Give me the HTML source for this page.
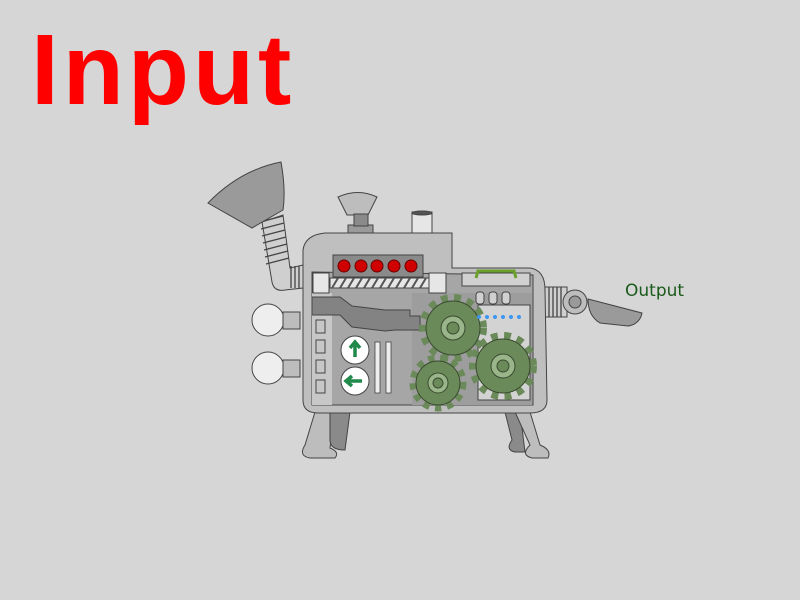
<!DOCTYPE html>
<html><head><style>
html,body{margin:0;padding:0;background:#d6d6d6;width:800px;height:600px;overflow:hidden}
</style></head><body>
<svg width="800" height="600" viewBox="0 0 800 600" xmlns="http://www.w3.org/2000/svg" style="position:absolute;left:0;top:0">
<rect width="800" height="600" fill="#d6d6d6"/>
<text x="31" y="104" font-family="Liberation Sans, sans-serif" font-weight="bold" font-size="100" letter-spacing="4" fill="#ff0000">Input</text>
<text x="625" y="296" font-family="DejaVu Sans, Liberation Sans, sans-serif" font-size="17" fill="#1a5a1a">Output</text>
<g stroke="#444" stroke-width="1">
<path d="M315 412 L305 445 Q298 456 310 458 L335 458 Q340 452 330 448 L335 412Z" fill="#bdbdbd"/>
<path d="M330 412 L330 440 Q330 450 345 450 L350 412Z" fill="#8a8a8a"/>
<path d="M505 412 L512 440 Q505 450 515 452 L525 452 L520 412Z" fill="#8a8a8a"/>
<path d="M515 412 L530 445 Q520 455 532 458 L548 458 Q552 450 540 445 L530 412Z" fill="#bdbdbd"/>
<path d="M262 222 L272 282 Q274 292 285 290 L303 288 L303 265 L290 268 L283 215Z" fill="#cfcfcf"/>
<g stroke="#444" stroke-width="1.3">
<line x1="260" y1="222" x2="283" y2="216"/><line x1="261" y1="229" x2="284" y2="223"/><line x1="262" y1="236" x2="285" y2="230"/>
<line x1="263" y1="243" x2="286" y2="237"/><line x1="264" y1="250" x2="287" y2="244"/><line x1="265" y1="257" x2="288" y2="251"/>
<line x1="266" y1="264" x2="289" y2="258"/>
<line x1="291" y1="266" x2="291" y2="288"/><line x1="295" y1="266" x2="295" y2="288"/><line x1="299" y1="266" x2="299" y2="288"/>
</g>
<path d="M208 203 Q240 170 281 162 Q286 190 283 210 L252 228Z" fill="#9a9a9a"/>
<rect x="545" y="287" width="22" height="30" fill="#cfcfcf"/>
<g stroke-width="1.3"><line x1="549" y1="287" x2="549" y2="317"/><line x1="553" y1="287" x2="553" y2="317"/><line x1="557" y1="287" x2="557" y2="317"/><line x1="561" y1="287" x2="561" y2="317"/></g>
<path d="M588 299 L642 313 Q640 324 628 326 L600 323 Q588 316 588 299Z" fill="#9a9a9a"/>
<circle cx="575" cy="302" r="12" fill="#bdbdbd"/><circle cx="575" cy="302" r="6" fill="#9a9a9a"/>
<circle cx="268" cy="320" r="16" fill="#eeeeee"/><rect x="283" y="312" width="17" height="17" fill="#bdbdbd"/>
<circle cx="268" cy="368" r="16" fill="#eeeeee"/><rect x="283" y="360" width="17" height="17" fill="#bdbdbd"/>
<rect x="348" y="225" width="25" height="16" fill="#9a9a9a"/>
<path d="M338 197 Q358 188 377 197 L368 215 L347 215Z" fill="#bdbdbd"/>
<rect x="354" y="214" width="14" height="12" fill="#8a8a8a"/>
<rect x="412" y="212" width="20" height="29" fill="#e6e6e6"/>
<ellipse cx="422" cy="213" rx="10" ry="2" fill="#555"/>
<path d="M303 250 Q305 235 325 233 L452 233 L452 268 L530 268 Q545 270 545 290 L547 400 Q547 413 530 413 L318 413 Q303 413 303 400Z" fill="#bfbfbf"/>
<path d="M312 272 L533 275 L533 405 L312 405Z" fill="#a6a6a6"/>
<rect x="312" y="293" width="20" height="112" fill="#c7c7c7" stroke="none"/>
<rect x="412" y="293" width="120" height="112" fill="#9d9d9d" stroke="none"/>
<rect x="478" y="305" width="52" height="95" fill="#d3d3d3"/>
<path d="M312 297 L340 297 L352 306 L385 310 L410 310 L410 316 L420 316 L420 330 L395 330 L385 331 L352 327 L340 315 L312 315Z" fill="#838383"/>
<rect x="462" y="273" width="68" height="13" fill="#d0d0d0"/>
<path d="M476 278 L478 271 L514 271 L516 278" fill="none" stroke="#6aa02a" stroke-width="3"/>
<rect x="333" y="255" width="90" height="22" fill="#8a8a8a"/>
<g stroke="#600" fill="#d10000"><circle cx="344" cy="266" r="6"/><circle cx="361" cy="266" r="6"/><circle cx="377" cy="266" r="6"/><circle cx="394" cy="266" r="6"/><circle cx="411" cy="266" r="6"/></g>
<rect x="330" y="278" width="100" height="10" fill="#e6e6e6"/>
<path d="M332 288 l6 -10 M340 288 l6 -10 M348 288 l6 -10 M356 288 l6 -10 M364 288 l6 -10 M372 288 l6 -10 M380 288 l6 -10 M388 288 l6 -10 M396 288 l6 -10 M404 288 l6 -10 M412 288 l6 -10 M420 288 l6 -10" stroke="#555" stroke-width="2"/>
<rect x="313" y="273" width="16" height="20" fill="#e6e6e6"/><rect x="429" y="273" width="17" height="20" fill="#e6e6e6"/>
<g fill="#d0d0d0"><rect x="476" y="292" width="8" height="12" rx="3"/><rect x="489" y="292" width="8" height="12" rx="3"/><rect x="502" y="292" width="8" height="12" rx="3"/></g>
<g fill="#c7c7c7"><rect x="316" y="320" width="9" height="13"/><rect x="316" y="340" width="9" height="13"/><rect x="316" y="360" width="9" height="13"/><rect x="316" y="380" width="9" height="13"/></g>
<circle cx="355" cy="350" r="14" fill="#fff"/><circle cx="355" cy="381" r="14" fill="#fff"/>
<path d="M355 357 L355 345 M350 348 L355 342 L360 348" stroke="#1f8a4a" stroke-width="3.5" fill="none"/>
<path d="M362 381 L349 381 M352 376 L346 381 L352 386" stroke="#1f8a4a" stroke-width="3.5" fill="none"/>
<g fill="#eee" stroke-width="0.8"><rect x="375" y="342" width="5" height="51"/><rect x="386" y="342" width="5" height="51"/></g>
<g fill="#6b8a5a" stroke="#3a4a30">
<circle cx="453" cy="328" r="29" stroke="#6b8a5a" stroke-dasharray="6.5 6" stroke-width="10" fill="none"/>
<circle cx="453" cy="328" r="27"/>
<circle cx="503" cy="366" r="29" stroke="#6b8a5a" stroke-dasharray="6.5 6" stroke-width="10" fill="none"/>
<circle cx="503" cy="366" r="27"/>
<circle cx="438" cy="383" r="24" stroke="#6b8a5a" stroke-dasharray="6 5.5" stroke-width="9" fill="none"/>
<circle cx="438" cy="383" r="22"/>
</g>
<g fill="#9ab58a" stroke="#3a4a30"><circle cx="453" cy="328" r="12"/><circle cx="503" cy="366" r="12"/><circle cx="438" cy="383" r="10"/></g>
<g fill="#6b8a5a" stroke="#3a4a30"><circle cx="453" cy="328" r="6"/><circle cx="503" cy="366" r="6"/><circle cx="438" cy="383" r="5"/></g>
<g fill="#3b97f0" stroke="none"><circle cx="479" cy="317" r="2"/><circle cx="487" cy="317" r="2"/><circle cx="495" cy="317" r="2"/><circle cx="503" cy="317" r="2"/><circle cx="511" cy="317" r="2"/><circle cx="519" cy="317" r="2"/></g>
</g>
</svg>
</body></html>
